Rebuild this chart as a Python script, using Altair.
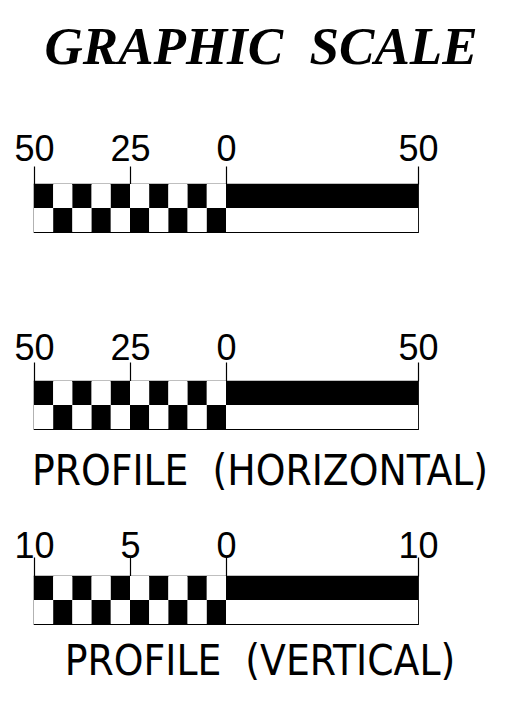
import altair as alt
import pandas as pd

NB = "\u00a0"
TITLE = "GRAPHIC" + NB * 2 + "SCALE"
CAPTIONS = [NB, "PROFILE" + NB * 2 + "(HORIZONTAL)", "PROFILE" + NB * 2 + "(VERTICAL)"]
MAXES = [50, 50, 10]
TICKS = [[-50, -25, 0, 50], [-50, -25, 0, 50], [-10, -5, 0, 10]]
DIVISIONS = 10  # alternating cells left of zero

TICK_SIZE = [18, 19, 19]
LABEL_PAD = [6, 3, 0]
CAPTION_OFFSET = [22, 23, 18]


def cells(m):
    rows = []
    step = m / DIVISIONS
    for i in range(DIVISIONS):
        x0 = -m + i * step
        rows.append({"x": x0, "x2": x0 + step, "y": 1, "y2": 2,
                     "fill": "black" if i % 2 == 0 else "white"})
        rows.append({"x": x0, "x2": x0 + step, "y": 0, "y2": 1,
                     "fill": "white" if i % 2 == 0 else "black"})
    rows.append({"x": 0, "x2": m, "y": 1, "y2": 2, "fill": "black"})
    rows.append({"x": 0, "x2": m, "y": 0, "y2": 1, "fill": "white"})
    return pd.DataFrame(rows)


def panel(k):
    m = MAXES[k]
    return alt.Chart(cells(m)).mark_rect(strokeWidth=0).encode(
        x=alt.X("x:Q", title=None,
                scale=alt.Scale(domain=[-m, m], nice=False, zero=False),
                axis=alt.Axis(orient="top", values=TICKS[k], labelExpr="abs(datum.value)",
                              tickSize=TICK_SIZE[k], labelPadding=LABEL_PAD[k],
                              labelBaseline="alphabetic", labelOverlap=False,
                              labelFlush=False, title=None)),
        x2="x2:Q",
        y=alt.Y("y:Q", scale=alt.Scale(domain=[0, 2], nice=False), axis=None),
        y2="y2:Q",
        fill=alt.Fill("fill:N", scale=None),
    ).properties(
        width=384, height=48,
        title=alt.TitleParams(CAPTIONS[k], orient="bottom", anchor="middle", dx=34,
                              offset=CAPTION_OFFSET[k],
                              font="DejaVu Sans Condensed, Liberation Sans",
                              fontSize=42, fontWeight="normal", color="black"),
    )


chart = alt.vconcat(*[panel(k) for k in range(3)], spacing=33).properties(
    title=alt.TitleParams(TITLE, anchor="middle", dx=10, offset=55,
                          font="Liberation Serif", fontSize=53, fontWeight="bold",
                          fontStyle="italic", color="black"),
    padding={"left": 5, "top": 14, "right": 5, "bottom": 5},
).configure_view(stroke="black", strokeWidth=1.2).configure_axis(
    labelFont="Liberation Sans", labelFontSize=36, labelColor="black",
    tickColor="black", tickWidth=1.2, domain=False, grid=False,
)

chart.save("out.html", embed_options={"renderer": "svg", "actions": False})
